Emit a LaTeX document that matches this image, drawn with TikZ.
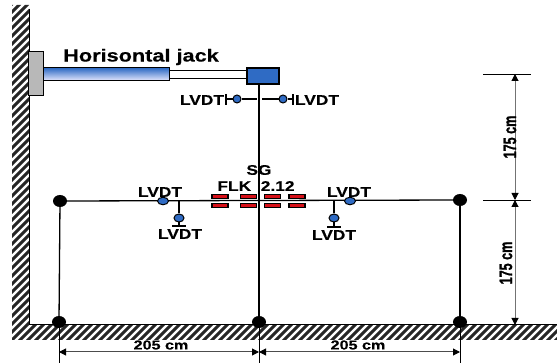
\documentclass[tikz,border=0pt]{standalone}
\usepackage{fontspec}
\setmainfont{Liberation Sans}
\newfontfamily\labw[FakeStretch=1.24,FakeBold=0.3]{Liberation Sans Bold}
\newfontfamily\labn[FakeStretch=0.7,FakeBold=1]{Liberation Sans Bold}
\usetikzlibrary{arrows.meta,shapes.geometric}
\definecolor{jackblue}{RGB}{47,107,196}
\definecolor{redbar}{RGB}{214,16,24}
\tikzset{
  x=1pt,y=-1pt,
  member/.style={line width=2pt,black},
  thinmember/.style={line width=1.3pt,black},
  support/.style={ellipse,fill=black,minimum width=14pt,minimum height=12pt,inner sep=0pt},
  sensor/.style={ellipse,draw=black,line width=1pt,fill=jackblue,minimum width=8pt,minimum height=8pt,inner sep=0pt},
  flatsensor/.style={ellipse,draw=black,line width=1pt,fill=jackblue,minimum width=11pt,minimum height=7.5pt,inner sep=0pt},
  redgauge/.style={rectangle,draw=black,line width=1.1pt,fill=redbar,minimum width=16pt,minimum height=4.5pt,inner sep=0pt},
  lbl/.style={font=\labw\fontsize{14}{14}\selectfont,inner sep=0pt},
  lblbig/.style={font=\labw\fontsize{17.5}{17.5}\selectfont,inner sep=0pt},
  dimh/.style={font=\labw\fontsize{13}{13}\selectfont,inner sep=0pt},
  dimv/.style={font=\labn\fontsize{18}{18}\selectfont,inner sep=0pt,rotate=90},
  dimline/.style={line width=1pt,black!55,{Triangle[black,length=7pt,width=7pt]}-{Triangle[black,length=7pt,width=7pt]}},
  ext/.style={line width=0.8pt,black},
}
\begin{document}
\begin{tikzpicture}
\useasboundingbox (0,0) rectangle (557,363);
% hatching: wall and ground
\begin{scope}
\clip (12,5) -- (29,5) -- (29,325) -- (557,325) -- (557,340) -- (12,340) -- cycle;
\foreach \k in {0,8,...,920}{
  \draw[line width=2.9pt,black!85] (\k,0) -- ++(-360,360);
}
\end{scope}
\draw[line width=1.8pt,black] (29.5,9) -- (29.5,324.5) -- (557,324.5);
% jack
\node[draw=black,line width=1pt,fill=black!28,minimum width=15pt,minimum height=44pt,inner sep=0pt] (plate) at (35.5,74) {};
\node[draw=black,line width=1pt,minimum width=126pt,minimum height=13pt,inner sep=0pt,top color=jackblue,bottom color=blue!8] (cyl) at (106,74.5) {};
\node[draw=black,line width=1pt,fill=white,minimum width=78pt,minimum height=8pt,inner sep=0pt] (rod) at (208,75) {};
\node[draw=black,line width=1.2pt,fill=jackblue,minimum width=32pt,minimum height=16pt,inner sep=0pt] (head) at (263,76) {};
\node[lblbig] (title) at (141,57) {Horisontal jack};
% frame
\coordinate (headfoot) at (259,84);
\node[support] (topL) at (60,201) {};
\node[support] (topR) at (460,200) {};
\node[support] (botL) at (59,322) {};
\node[support] (botM) at (259,322) {};
\node[support] (botR) at (460,322) {};
\draw[member] (headfoot) -- (botM.center);
\draw[thinmember] (topL.center) -- (topR.center);
\draw[thinmember] (topL.center) -- (botL.center);
\draw[member] (topR.center) -- (botR.center);
% upper LVDTs
\node[sensor] (s1) at (237,99) {};
\node[sensor] (s2) at (283,99) {};
\coordinate (s1j) at (257,99);
\coordinate (s2j) at (262,99);
\draw[thinmember] (s1) -- (s1j);
\draw[thinmember] (s2) -- (s2j);
\coordinate (t1a) at (226,94); \coordinate (t1b) at (226,105);
\coordinate (t2a) at (293,94); \coordinate (t2b) at (293,105);
\coordinate (t1m) at (226,99); \coordinate (t2m) at (293,99);
\draw[thinmember] (t1a) -- (t1b);
\draw[thinmember] (t2a) -- (t2b);
\draw[thinmember] (t1m) -- (s1);
\draw[thinmember] (t2m) -- (s2);
\node[lbl] (l1) at (202,100) {LVDT};
\node[lbl] (l2) at (317,100) {LVDT};
% centre labels
\node[lbl] (sg) at (259,170) {SG};
\node[lbl] (flk) at (256,186) {FLK\ \ 2.12};
% strain gauges
\foreach \n/\x in {a/220,b/248.5,c/272.5,d/297}{
  \node[redgauge] (g\n1) at (\x,196.5) {};
  \node[redgauge] (g\n2) at (\x,205.5) {};
}
% lower LVDTs
\node[flatsensor] (s3) at (163,201) {};
\node[flatsensor] (s4) at (350,201) {};
\node[lbl] (l3) at (160,192) {LVDT};
\node[lbl] (l4) at (349,192) {LVDT};
\coordinate (j5) at (179,201);
\coordinate (j6) at (334,201);
\node[sensor,minimum width=10pt,minimum height=8pt] (s5) at (179,218) {};
\node[sensor,minimum width=10pt,minimum height=8pt] (s6) at (334,218) {};
\draw[thinmember] (j5) -- (s5);
\draw[thinmember] (j6) -- (s6);
\coordinate (t5) at (179,226);
\coordinate (t6) at (334,227);
\draw[thinmember] (s5) -- (t5);
\draw[thinmember] (s6) -- (t6);
\draw[thinmember] ([xshift=-7pt]t5) -- ([xshift=7pt]t5);
\draw[thinmember] ([xshift=-7pt]t6) -- ([xshift=7pt]t6);
\node[lbl] (l5) at (180,234) {LVDT};
\node[lbl] (l6) at (334,235) {LVDT};
% vertical dimensions
\coordinate (e1a) at (483,74); \coordinate (e1b) at (531,74);
\coordinate (e2a) at (483,200); \coordinate (e2b) at (531,200);
\draw[ext] (e1a) -- (e1b);
\draw[ext] (e2a) -- (e2b);
\coordinate (d1) at (515,74); \coordinate (d2) at (515,200); \coordinate (d3) at (515,325);
\draw[dimline] (d1) -- (d2);
\draw[dimline] (d2) -- (d3);
\node[dimv] (v1) at (510,137) {175 cm};
\node[dimv] (v2) at (506,263) {175 cm};
% horizontal dimensions
\coordinate (x1a) at (59,325); \coordinate (x1b) at (59,363);
\coordinate (x2a) at (259,325); \coordinate (x2b) at (259,363);
\coordinate (x3a) at (460,325); \coordinate (x3b) at (460,363);
\draw[ext] (x1a) -- (x1b);
\draw[ext] (x2a) -- (x2b);
\draw[ext] (x3a) -- (x3b);
\coordinate (h1) at (59,352); \coordinate (h2) at (259,352); \coordinate (h3) at (460,352);
\draw[dimline,black!70] (h1) -- (h2);
\draw[dimline,black!70] (h2) -- (h3);
\node[dimh] (w1) at (161,345) {205 cm};
\node[dimh] (w2) at (358,345) {205 cm};
\end{tikzpicture}
\end{document}
